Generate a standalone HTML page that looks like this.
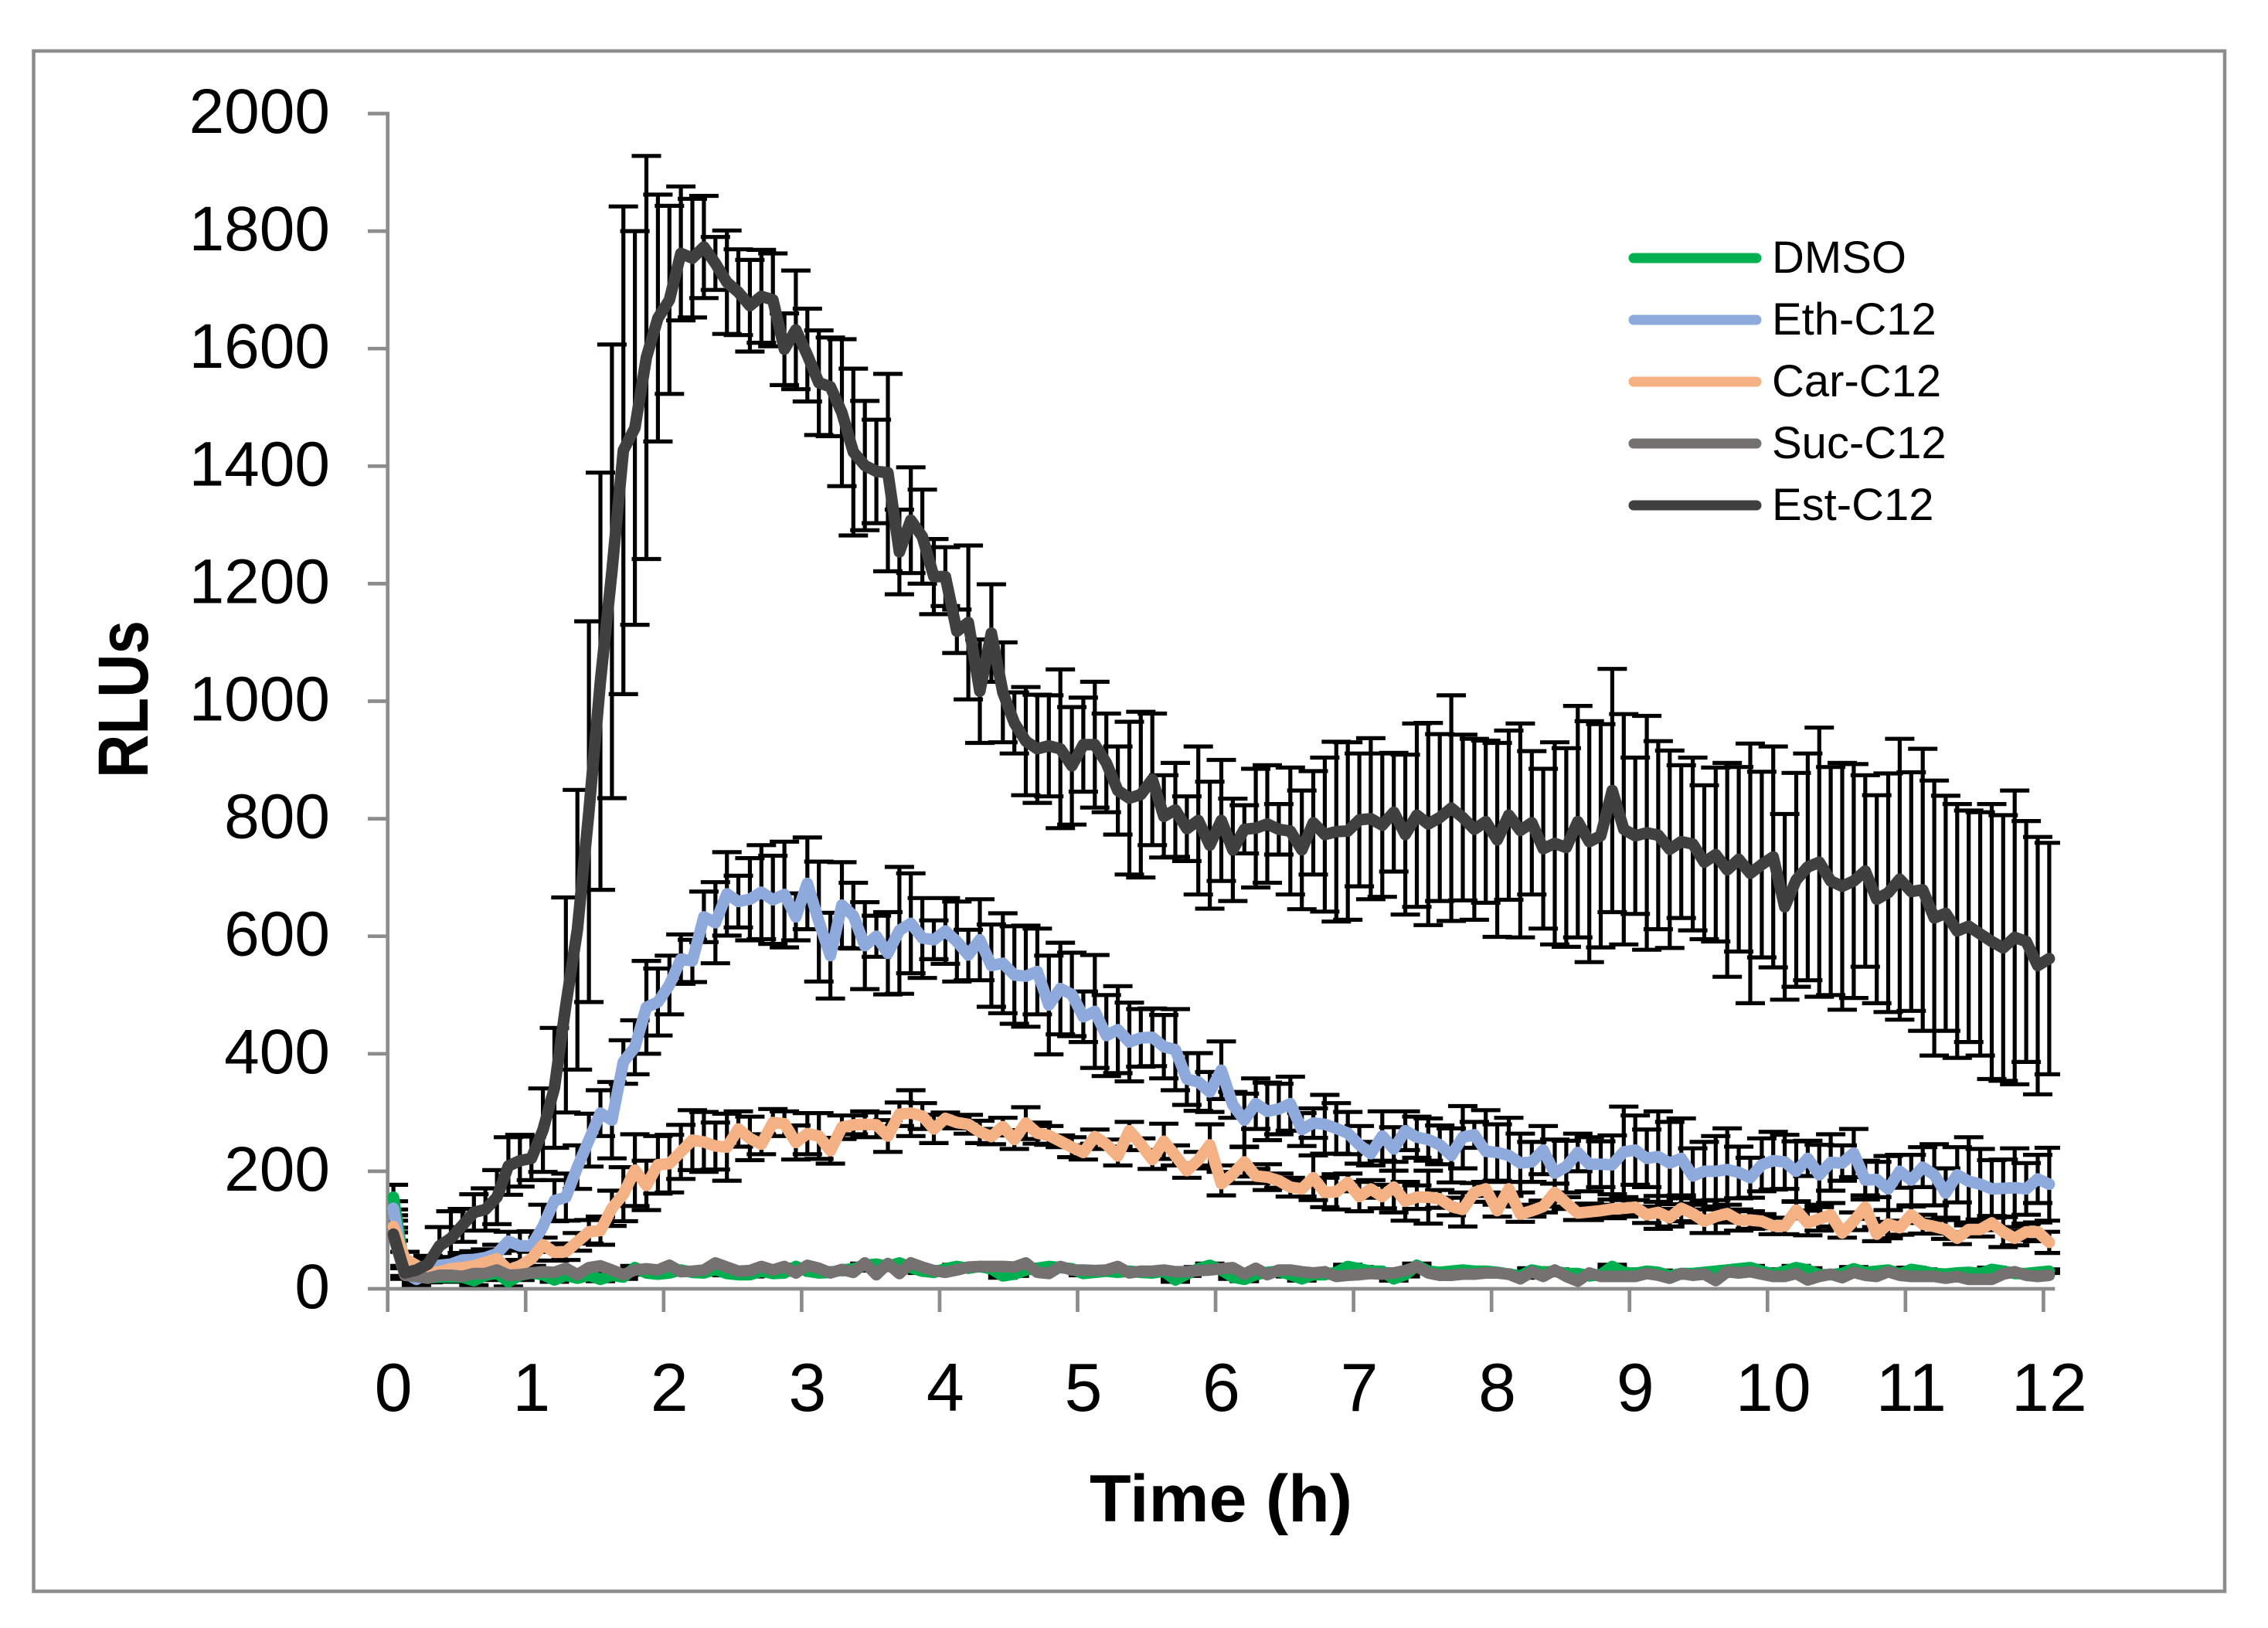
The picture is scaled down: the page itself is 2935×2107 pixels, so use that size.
<!DOCTYPE html>
<html lang="en">
<head>
<meta charset="utf-8">
<title>RLUs over time</title>
<style>
html,body{margin:0;padding:0;background:#fff;}
svg{display:block;}
text{font-family:"Liberation Sans",sans-serif;fill:#000;}
</style>
</head>
<body>
<svg id="chart" width="2935" height="2107" viewBox="0 0 2935 2107" xmlns="http://www.w3.org/2000/svg">
<defs><clipPath id="error-clip"><rect x="501.7" y="0" width="2164.3" height="1700"/></clipPath></defs>
<rect x="0" y="0" width="2935" height="2107" fill="#fff"/>
<rect x="43.5" y="66" width="2835.5" height="1993.5" fill="none" stroke="#8c8c8c" stroke-width="4.5"/>
<g id="error-layer" clip-path="url(#error-clip)"></g>
<g id="axis-layer"></g>
<g id="line-layer"></g>
<g id="label-layer"></g>
<text transform="translate(191,1007) rotate(-90)" font-size="92" font-weight="700" textLength="204" lengthAdjust="spacingAndGlyphs">RLUs</text>
<text x="1410" y="1969" font-size="86" font-weight="700" textLength="340" lengthAdjust="spacingAndGlyphs">Time (h)</text>
<g id="legend-layer"></g>
</svg>
<script>
const hourLabels = ["0","1","2","3","4","5","6","7","8","9","10","11","12"];
const yTickValues = [0,200,400,600,800,1000,1200,1400,1600,1800,2000];
const seriesNames = ["DMSO","Eth-C12","Car-C12","Suc-C12","Est-C12"];

const dmso = [156,30,20,19,20,20,20,14,23,27,
12,23,27,24,15,23,18,23,16,23,
20,36,27,25,27,32,28,27,33,26,
24,24,30,26,27,38,30,27,28,32,
34,40,42,38,44,36,30,28,34,38,
35,38,34,22,25,32,35,38,36,34,
26,28,30,28,30,28,27,30,15,25,
34,40,32,20,16,24,28,30,24,17,
24,24,28,38,34,30,30,17,24,40,
30,28,30,32,30,30,28,25,22,32,
28,30,26,26,22,24,38,28,26,30,
28,22,26,26,28,30,32,34,36,30,
25,30,36,32,24,24,26,34,28,30,
32,25,33,30,26,25,27,28,26,33,
30,26,26,28,30];

const eth = [137,27,16,28,40,42,49,50,53,60,
81,73,73,106,150,156,207,253,299,287,
386,411,479,488,517,561,558,633,623,672,
659,663,675,662,671,633,690,625,567,653,
635,584,600,571,610,622,597,594,609,591,
568,594,550,554,534,532,540,483,511,501,
463,472,431,441,420,427,428,412,407,357,
352,335,372,313,287,315,302,306,315,271,
282,280,273,265,245,230,260,238,269,258,
254,245,227,258,262,234,232,227,214,216,
236,197,208,232,212,212,211,233,236,222,
225,214,222,192,200,200,203,198,189,211,
218,216,200,222,194,215,214,231,185,186,
170,200,185,207,194,163,194,183,178,170,
171,172,170,187,178];

const car = [106,51,40,27,29,34,36,39,45,51,
32,39,51,75,62,63,80,97,99,137,
161,202,176,211,213,233,253,250,243,241,
272,256,246,283,281,249,264,260,235,275,
279,280,279,260,297,299,294,272,290,283,
280,267,259,276,254,282,265,261,251,241,
232,259,246,226,269,246,220,251,227,201,
219,245,179,195,216,192,190,184,173,170,
189,164,165,181,157,170,157,173,149,156,
156,153,140,135,164,170,133,170,127,133,
140,164,146,129,131,133,136,137,139,126,
130,121,137,128,115,123,128,117,117,115,
107,107,134,112,119,126,95,115,139,93,
110,104,126,110,106,101,86,101,101,112,
97,86,97,97,79];

const suc = [90,23,21,18,23,23,21,26,26,32,
23,24,27,29,28,35,24,36,39,32,
24,32,34,32,40,29,30,32,44,37,
30,31,38,32,38,27,40,35,27,33,
28,44,24,43,26,44,37,31,28,32,
37,38,38,38,37,44,28,26,38,32,
32,31,32,38,27,30,30,32,29,29,
31,32,34,36,25,35,24,32,32,29,
27,29,21,23,24,26,25,27,31,38,
27,23,23,25,25,27,27,25,17,29,
21,32,21,13,27,21,21,21,21,26,
23,18,26,23,25,14,29,27,29,25,
21,21,26,15,21,25,19,28,23,21,
29,23,21,21,21,18,21,16,16,16,
25,29,23,21,23];

const est = [93,27,32,42,73,86,108,130,135,156,
209,218,222,270,342,483,611,812,1034,1221,
1427,1465,1585,1652,1683,1762,1754,1773,1745,1713,
1696,1673,1689,1683,1599,1632,1589,1542,1535,1491,
1424,1401,1391,1389,1254,1308,1280,1212,1212,1119,
1134,1017,1116,1015,963,932,919,924,919,890,
926,926,895,848,835,841,867,804,815,783,
797,755,797,747,782,784,791,782,779,747,
793,773,778,779,798,800,789,811,773,806,
791,802,818,802,782,795,764,806,780,793,
749,758,751,795,761,771,848,782,771,776,
772,748,761,757,726,739,713,731,707,722,
735,650,696,718,726,694,685,694,711,663,
674,697,676,679,631,639,609,617,604,591,
580,598,591,550,562];

const dmsoErr = [21,8,8,8,8,8,8,8,8,8,
8,8,3,3,3,3,3,3,3,3,
3,3,3,3,3,3,3,3,3,3,
3,3,3,3,3,3,3,3,3,3,
3,3,3,3,3,3,3,3,3,3,
3,3,3,3,3,3,3,3,3,3,
3,3,3,3,3,3,3,3,3,3,
3,3,3,3,3,3,3,3,3,3,
3,3,3,3,3,3,3,3,3,3,
3,3,3,3,3,3,3,3,3,3,
3,3,3,3,3,3,3,3,3,3,
3,3,3,3,3,3,3,3,3,3,
3,3,3,3,3,3,3,3,3,3,
3,3,3,3,3,3,3,3,3,3,
3,3,3,3,3];

const ethErr = [12,10,10,10,12,12,12,14,14,15,
16,24,25,37,35,40,37,45,39,65,
37,46,79,57,50,42,36,43,69,71,
44,70,80,75,90,40,78,102,73,73,
56,74,35,70,108,85,68,33,56,68,
43,69,70,85,83,86,73,84,78,71,
43,96,69,74,67,49,49,54,69,44,
49,34,49,22,45,43,49,43,46,28,
25,50,43,36,32,20,42,37,33,35,
36,33,46,53,22,70,48,64,50,34,
41,57,44,32,46,39,50,77,59,49,
77,70,68,47,50,60,70,44,34,45,
49,46,51,30,51,48,30,41,33,30,
56,28,43,34,52,42,47,75,60,49,
49,67,44,41,62];

const carErr = [10,12,10,8,8,8,8,8,10,10,
10,10,12,12,14,14,15,20,24,30,
46,61,42,49,49,46,51,51,40,57,
30,37,17,23,21,29,35,39,22,20,
16,22,21,27,20,39,22,24,10,10,
16,19,13,15,16,27,18,16,10,17,
12,12,8,16,15,10,16,30,17,12,
14,35,20,15,25,12,22,12,16,13,
38,25,30,15,25,15,20,43,33,20,
45,15,15,29,16,12,10,12,13,10,
10,15,10,12,14,10,16,14,12,14,
28,15,22,15,20,28,15,18,15,12,
14,14,14,21,20,20,8,15,20,12,
24,12,14,16,12,16,10,12,12,12,
26,12,14,16,18];

const estErr = [11,8,10,14,32,46,28,31,36,46,
49,44,37,71,102,183,238,324,355,386,
415,335,343,210,160,114,101,87,45,88,
73,78,79,79,61,101,79,89,84,125,
142,110,88,168,72,90,80,64,50,37,
131,88,83,85,52,92,92,86,135,100,
80,107,84,75,130,141,112,70,80,55,
126,108,103,87,41,101,100,43,108,101,
88,131,153,151,113,137,122,101,136,156,
172,142,192,141,154,138,165,144,182,122,
136,172,169,197,205,190,207,196,133,199,
160,168,130,147,131,148,182,157,221,158,
188,158,182,193,229,194,210,199,163,177,
203,239,203,240,234,200,216,197,207,234,
226,250,205,219,197];

const seriesColors = ["#00B050","#8EA9DB","#F4B183","#767171","#404040"];
const NS = "http://www.w3.org/2000/svg";
const plotLeft = 501.7, plotBottom = 1668, plotTop = 147, stepX = 14.88;
const yMax = 2000;

function xAt(i){ return plotLeft + (i + 0.5) * stepX; }
function xEdge(i){ return plotLeft + i * stepX; }
function yAt(v){ return plotBottom - (v / yMax) * (plotBottom - plotTop); }
function make(tag, parent){
  const el = document.createElementNS(NS, tag);
  parent.appendChild(el);
  return el;
}

const errorLayer = document.getElementById("error-layer");
const axisLayer = document.getElementById("axis-layer");
const lineLayer = document.getElementById("line-layer");
const labelLayer = document.getElementById("label-layer");
const legendLayer = document.getElementById("legend-layer");

const valuesBySeries = [dmso, eth, car, suc, est];
const errorsBySeries = [dmsoErr, ethErr, carErr, null, estErr];
const capHalf = 19;

valuesBySeries.forEach(function(vals, s){
  const errs = errorsBySeries[s];
  if(!errs) return;
  let d = "";
  vals.forEach(function(v, i){
    const x = xAt(i), top = yAt(v + errs[i]), bot = yAt(v - errs[i]);
    d += "M" + x.toFixed(1) + " " + top.toFixed(1) + "V" + bot.toFixed(1);
    d += "M" + (x - capHalf).toFixed(1) + " " + top.toFixed(1) + "H" + (x + capHalf).toFixed(1);
    d += "M" + (x - capHalf).toFixed(1) + " " + bot.toFixed(1) + "H" + (x + capHalf).toFixed(1);
  });
  const p = make("path", errorLayer);
  
  
  p.setAttribute("d", d);
  p.setAttribute("fill", "none");
  p.setAttribute("stroke", "#000");
  p.setAttribute("stroke-width", "5.2");
});

const axisColor = "#8c8c8c", axisWidth = "4.7";
function axisLine(x1, y1, x2, y2, name){
  const l = make("line", axisLayer);
  
  
  l.setAttribute("x1", x1);
  l.setAttribute("y1", y1);
  l.setAttribute("x2", x2);
  l.setAttribute("y2", y2);
  l.setAttribute("stroke", axisColor);
  l.setAttribute("stroke-width", axisWidth);
}
axisLine(plotLeft, plotTop - 2.3, plotLeft, plotBottom, "y-axis-line");
axisLine(plotLeft, plotBottom, xEdge(145), plotBottom, "x-axis-line");
yTickValues.forEach(function(v){
  axisLine(476, yAt(v), plotLeft, yAt(v), "y-tick-" + v);
  const t = make("text", labelLayer);
  
  
  t.setAttribute("x", 427);
  t.setAttribute("y", yAt(v) + 25);
  t.setAttribute("font-size", "82");
  t.setAttribute("text-anchor", "end");
  t.textContent = String(v);
});
hourLabels.forEach(function(lbl, k){
  axisLine(xEdge(12 * k), plotBottom, xEdge(12 * k), 1698, "x-tick-" + lbl);
  const t = make("text", labelLayer);
  
  
  t.setAttribute("x", xAt(12 * k));
  t.setAttribute("y", 1826);
  t.setAttribute("font-size", "88");
  t.setAttribute("text-anchor", "middle");
  t.textContent = lbl;
});

valuesBySeries.forEach(function(vals, s){
  const pts = vals.map(function(v, i){ return xAt(i).toFixed(1) + "," + yAt(v).toFixed(1); }).join(" ");
  const pl = make("polyline", lineLayer);
  
  
  pl.setAttribute("points", pts);
  pl.setAttribute("fill", "none");
  pl.setAttribute("stroke", seriesColors[s]);
  pl.setAttribute("stroke-width", "15");
  pl.setAttribute("stroke-linejoin", "round");
  pl.setAttribute("stroke-linecap", "round");
});

seriesNames.forEach(function(name, s){
  const rowY = 334 + s * 80;
  const g = make("g", legendLayer);
  
  
  const sw = make("line", g);
  
  
  sw.setAttribute("x1", 2114);
  sw.setAttribute("y1", rowY);
  sw.setAttribute("x2", 2273);
  sw.setAttribute("y2", rowY);
  sw.setAttribute("stroke", seriesColors[s]);
  sw.setAttribute("stroke-width", "13");
  sw.setAttribute("stroke-linecap", "round");
  const t = make("text", g);
  
  
  t.setAttribute("x", 2293);
  t.setAttribute("y", rowY + 19);
  t.setAttribute("font-size", "58");
  t.textContent = name;
});
</script>
</body>
</html>
